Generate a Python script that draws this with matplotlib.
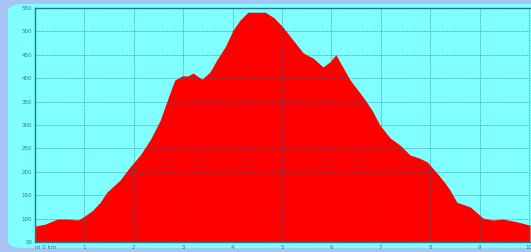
import matplotlib.pyplot as plt
from matplotlib.patches import FancyBboxPatch

# elevation profile
dist_km = [0.00, 0.20, 0.45, 0.65, 0.87, 0.97, 1.17, 1.32, 1.46, 1.72, 1.92, 2.13,
           2.33, 2.53, 2.73, 2.83, 2.98, 3.10, 3.20, 3.28, 3.38, 3.54, 3.68, 3.85,
           4.01, 4.15, 4.31, 4.66, 4.84, 5.02, 5.22, 5.43, 5.63, 5.83, 5.97, 6.09,
           6.23, 6.38, 6.64, 6.82, 6.98, 7.19, 7.39, 7.59, 7.79, 7.94, 8.14, 8.30,
           8.40, 8.54, 8.81, 9.07, 9.27, 9.47, 9.76, 10.02]
elev_m = [84, 88, 99, 99, 97, 103, 118, 135, 157, 182, 210, 236,
          268, 309, 368, 396, 405, 405, 411, 405, 398, 413, 439, 467,
          503, 524, 541, 541, 529, 509, 482, 454, 443, 424, 435, 450,
          424, 396, 360, 332, 300, 272, 257, 236, 229, 221, 197, 176,
          161, 135, 125, 101, 97, 99, 93, 86]

x_ticks = [0, 1, 2, 3, 4, 5, 6, 7, 8, 9, 10]
x_labels = ['m 0 km', '1', '2', '3', '4', '5', '6', '7', '8', '9', '10']
y_ticks = [50, 100, 150, 200, 250, 300, 350, 400, 450, 500, 550]

fig = plt.figure(figsize=(5.31, 2.52), dpi=100)
fig.patch.set_facecolor('#a8c4f4')

# rounded cyan panel behind the plot
panel = FancyBboxPatch((8 / 531, 4 / 252), 540 / 531, 244 / 252,
                       boxstyle='round,pad=0,rounding_size=0.03',
                       transform=fig.transFigure, facecolor='#80ffff',
                       edgecolor='none', zorder=-10)
fig.add_artist(panel)

ax = fig.add_axes([35 / 531, 10 / 252, 495 / 531, 234 / 252])
ax.set_zorder(5)
ax.set_facecolor('#80ffff')
ax.fill_between(dist_km, elev_m, 50, color='#ff0000', linewidth=0, zorder=1)

ax.set_xlim(0, 10.02)
ax.set_ylim(50, 550)
ax.set_xticks(x_ticks)
ax.set_xticklabels(x_labels)
ax.set_yticks(y_ticks)
ax.tick_params(labelsize=4, colors='#2a7a8a', length=0, pad=2)
ax.xaxis.get_ticklabels()[0].set_horizontalalignment('left')

ax.grid(True, color='#1a6a8a', linestyle=(0, (1, 1)), linewidth=0.6, alpha=0.7, zorder=2)
ax.set_axisbelow(False)

ax.spines['right'].set_visible(False)
for side in ['left', 'bottom', 'top']:
    ax.spines[side].set_color('#2a7a9a')
    ax.spines[side].set_linewidth(1.0)

fig.savefig('out.png', dpi=100, facecolor=fig.get_facecolor())
